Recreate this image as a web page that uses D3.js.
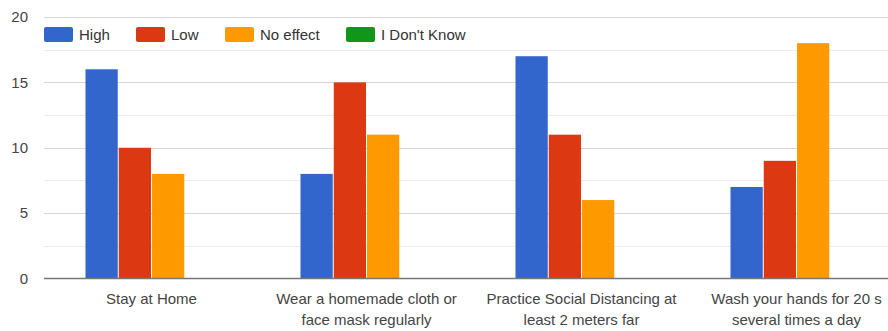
<!DOCTYPE html>
<html>
<head>
<meta charset="utf-8">
<script src="https://cdn.jsdelivr.net/npm/d3@7"></script>
<style>
  html, body { margin: 0; padding: 0; background: #fff; }
  svg { display: block; font-family: Arial, "Liberation Sans", sans-serif; }
</style>
</head>
<body>
<svg id="chart" width="888" height="331"></svg>
<script>
// Survey answers: perceived effectiveness of each preventive measure
const categories = [
  ["Stay at Home"],
  ["Wear a homemade cloth or", "face mask regularly"],
  ["Practice Social Distancing at", "least 2 meters far"],
  ["Wash your hands for 20 s", "several times a day"]
];
const seriesNames = ["High", "Low", "No effect", "I Don't Know"];
const seriesColors = ["#3366cc", "#dc3912", "#ff9900", "#109618"];
const highValues = [16, 8, 17, 7];
const lowValues = [10, 15, 11, 9];
const noEffectValues = [8, 11, 6, 18];
const dontKnowValues = [0, 0, 0, 0];
const yTicks = [0, 5, 10, 15, 20];
const yMinorTicks = [2.5, 7.5, 12.5, 17.5];

const seriesValues = [highValues, lowValues, noEffectValues, dontKnowValues];
const catKeys = categories.map(c => c.join(" "));
const FONT = 15;

const svg = d3.select("#chart");

const x0 = d3.scaleBand()
  .domain(catKeys)
  .range([44, 904])
  .paddingInner(0.386)
  .paddingOuter(0.193);

const x1 = d3.scaleBand()
  .domain(seriesNames)
  .range([0, x0.bandwidth()])
  .paddingInner(0.03);

const y = d3.scaleLinear().domain([0, 20]).range([278.5, 17]);

// minor gridlines
svg.append("g").selectAll("line").data(yMinorTicks).join("line")
  .attr("x1", 44).attr("x2", 888)
  .attr("y1", d => Math.round(y(d)) + 0.5).attr("y2", d => Math.round(y(d)) + 0.5)
  .attr("stroke", "#ebebeb").attr("stroke-width", 1);

// major gridlines
svg.append("g").selectAll("line").data(yTicks.filter(d => d !== 0)).join("line")
  .attr("x1", 44).attr("x2", 888)
  .attr("y1", d => Math.round(y(d)) + 0.5).attr("y2", d => Math.round(y(d)) + 0.5)
  .attr("stroke", "#d6d6d6").attr("stroke-width", 1);

// y axis labels
const yAxis = d3.axisLeft(y).tickValues(yTicks).tickSize(0).tickPadding(0);
const yg = svg.append("g").attr("transform", "translate(28,0)").call(yAxis);
yg.select(".domain").remove();
yg.selectAll("text")
  .attr("font-size", FONT)
  .attr("font-family", "Arial, 'Liberation Sans', sans-serif")
  .attr("fill", "#444");

// bars
const groups = svg.append("g").selectAll("g").data(catKeys).join("g")
  .attr("transform", d => `translate(${x0(d)},0)`);

groups.selectAll("rect")
  .data((d, i) => seriesNames.map((s, j) => ({ s, v: seriesValues[j][i], c: seriesColors[j] })))
  .join("rect")
  .attr("x", d => x1(d.s))
  .attr("width", x1.bandwidth())
  .attr("y", d => y(d.v))
  .attr("height", d => y(0) - y(d.v))
  .attr("fill", d => d.c);

// baseline
svg.append("line")
  .attr("x1", 44).attr("x2", 888)
  .attr("y1", y(0)).attr("y2", y(0))
  .attr("stroke", "#777").attr("stroke-width", 1.5);

// category labels
const xg = svg.append("g");
categories.forEach((lines, i) => {
  const cx = x0(catKeys[i]) + x0.bandwidth() / 2;
  const t = xg.append("text")
    .attr("text-anchor", "middle")
    .attr("font-size", FONT)
    .attr("fill", "#444");
  lines.forEach((ln, k) => {
    t.append("tspan").attr("x", cx).attr("y", 304 + k * 20.5).text(ln);
  });
});

// legend
const legendX = [44, 136, 225, 346];
const legend = svg.append("g").selectAll("g").data(seriesNames).join("g")
  .attr("transform", (d, i) => `translate(${legendX[i]},27)`);
legend.append("rect")
  .attr("width", 29).attr("height", 15).attr("rx", 2)
  .attr("fill", (d, i) => seriesColors[i]);
legend.append("text")
  .attr("x", 35).attr("y", 12.5)
  .attr("font-size", FONT)
  .attr("fill", "#333")
  .text(d => d);
</script>
</body>
</html>
